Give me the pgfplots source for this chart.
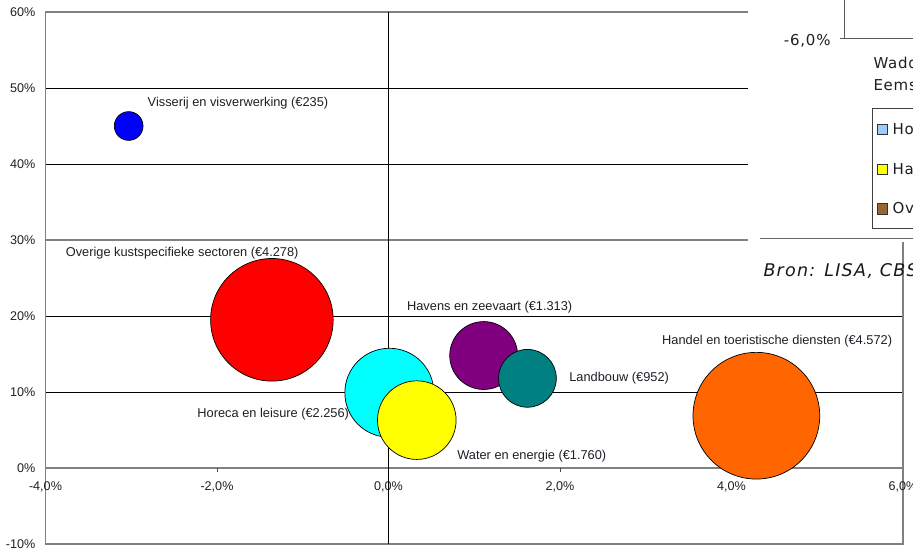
\documentclass[border=0pt]{standalone}
\usepackage{fontspec}
\setmainfont{Liberation Sans}
\newfontfamily\verd[LetterSpace=5]{DejaVu Sans}
\newfontfamily\verdit[LetterSpace=7]{DejaVu Sans Oblique}
\usepackage{pgfplots}
\usepackage{pgfplotstable}
\pgfplotsset{compat=1.18}

\definecolor{cBlue}{RGB}{0,0,255}
\definecolor{cRed}{RGB}{255,0,0}
\definecolor{cCyan}{RGB}{0,255,255}
\definecolor{cYellow}{RGB}{255,255,0}
\definecolor{cPurple}{RGB}{128,0,128}
\definecolor{cTeal}{RGB}{0,128,128}
\definecolor{cOrange}{RGB}{255,102,0}
\definecolor{axgray}{RGB}{128,128,128}
\definecolor{txt}{RGB}{30,30,38}
\definecolor{lgBlue}{RGB}{153,204,255}
\definecolor{lgBrown}{RGB}{153,102,51}

% x = groei (%), y = groei (%), v = omvang (mln euro)
\pgfplotstableread{
x     y     v     c
-3.03 45.0  235   vis
-1.36 19.5  4278  ove
0.01  9.9   2256  hor
0.33  6.3   1760  wat
1.11  14.8  1313  hav
1.62  11.8  952   lan
4.29  6.88  4572  han
}\bubbles

\begin{document}
\begin{tikzpicture}
\useasboundingbox (-45.5pt,-6pt) rectangle (867.5pt,544pt);
\clip (-45.5pt,-6pt) rectangle (867.5pt,544pt);
\begin{axis}[
  at={(0pt,0pt)}, anchor=south west,
  scale only axis, width=857.5pt, height=532pt,
  xmin=-4, xmax=6, ymin=-10, ymax=60,
  xtick={-4,-2,0,2,4,6},
  xticklabels={{-4,0\%},{-2,0\%},{0,0\%},{2,0\%},{4,0\%},{6,0\%}},
  ytick={-10,0,10,20,30,40,50,60},
  yticklabels={-10\%,0\%,10\%,20\%,30\%,40\%,50\%,60\%},
  major tick length=0pt,
  tick label style={font=\fontsize{12.6}{14}\selectfont, text=txt, inner sep=0pt},
  xticklabel style={anchor=center, yshift=57.5pt},
  yticklabel style={anchor=east, xshift=-10pt},
  ymajorgrids,
  major grid style={black, line width=0.8pt},
  axis line style={axgray, line width=1.5pt},
  clip=false,
]
% special grid lines
\draw[axgray, line width=2pt] (axis cs:-4,30) -- (axis cs:6,30);
\draw[axgray, line width=2.5pt] (axis cs:-4,0) -- (axis cs:6,0);
\draw[black, line width=1pt] (axis cs:0,-10) -- (axis cs:0,60);
\pgfplotsinvokeforeach{-2,2,4}{\draw[axgray!60!black, line width=1pt] (axis cs:#1,0) -- ++(0pt,-4pt);}

\addplot[scatter, only marks, mark=*,
  point meta=explicit symbolic,
  scatter/classes={
    vis={mark=*, fill=cBlue, draw=black, line width=0.7pt},
    ove={mark=*, fill=cRed, draw=black, line width=0.7pt},
    hor={mark=*, fill=cCyan, draw=black, line width=0.7pt},
    wat={mark=*, fill=cYellow, draw=black, line width=0.7pt},
    hav={mark=*, fill=cPurple, draw=black, line width=0.7pt},
    lan={mark=*, fill=cTeal, draw=black, line width=0.7pt},
    han={mark=*, fill=cOrange, draw=black, line width=0.7pt}},
  visualization depends on={0.937*sqrt(\thisrow{v}) \as \rad},
  scatter/@pre marker code/.append style={/tikz/mark size=\rad},
] table[x=x, y=y, meta=c] {\bubbles};

\begin{scope}[every node/.style={anchor=west, inner sep=0pt, text=txt, font=\fontsize{12.8}{14}\selectfont}]
\node at (axis cs:-2.81,48.0) {Visserij en visverwerking (€235)};
\node at (axis cs:-3.765,28.25) {Overige kustspecifieke sectoren (€4.278)};
\node at (axis cs:-2.23,7.1) {Horeca en leisure (€2.256)};
\node at (axis cs:0.215,21.2) {Havens en zeevaart (€1.313)};
\node at (axis cs:2.107,11.8) {Landbouw (€952)};
\node at (axis cs:0.80,1.49) {Water en energie (€1.760)};
\node at (axis cs:3.19,16.75) {Handel en toeristische diensten (€4.572)};
\end{scope}
\end{axis}

% pasted fragment of another chart (top right)
\fill[white] (702.5pt,302pt) rectangle (870pt,552pt);
\draw[axgray!70!black, line width=1pt] (798.8pt,560pt) -- (798.8pt,505pt) -- (870pt,505pt);
\draw[axgray!70!black, line width=1pt] (794.8pt,505pt) -- (798.8pt,505pt);
\node[anchor=east, inner sep=0pt, text=txt, font=\verd\fontsize{15}{17}\selectfont] at (785.2pt,503pt) {-6,0\%};
\node[anchor=west, inner sep=0pt, text=txt, font=\verd\fontsize{15}{17}\selectfont] at (827.8pt,480.7pt) {Waddenzee};
\node[anchor=west, inner sep=0pt, text=txt, font=\verd\fontsize{15}{17}\selectfont] at (827.8pt,459pt) {Eemsdelta};
\draw[black!75, line width=1pt, fill=white] (826.8pt,315.7pt) rectangle (900pt,435.7pt);
\draw[black!80, line width=0.8pt, fill=lgBlue] (831.8pt,409.5pt) rectangle ++(10.4pt,10.4pt);
\draw[black!80, line width=0.8pt, fill=cYellow] (831.8pt,369.5pt) rectangle ++(10.4pt,10.4pt);
\draw[black!80, line width=0.8pt, fill=lgBrown] (831.8pt,329.8pt) rectangle ++(10.4pt,10.4pt);
\begin{scope}[every node/.style={anchor=west, inner sep=0pt, text=txt, font=\verd\fontsize{15}{17}\selectfont}]
\node at (846.8pt,414.7pt) {Horeca};
\node at (846.8pt,374.7pt) {Havens};
\node at (846.8pt,335pt) {Overig};
\end{scope}
\draw[axgray!80!black, line width=1.5pt] (714.5pt,305.3pt) -- (870pt,305.3pt);
\node[anchor=west, inner sep=0pt, text=black!90, font=\verdit\fontsize{17.5}{19}\selectfont] at (717.8pt,273pt) {Bron: LISA, CBS};
\end{tikzpicture}
\end{document}
